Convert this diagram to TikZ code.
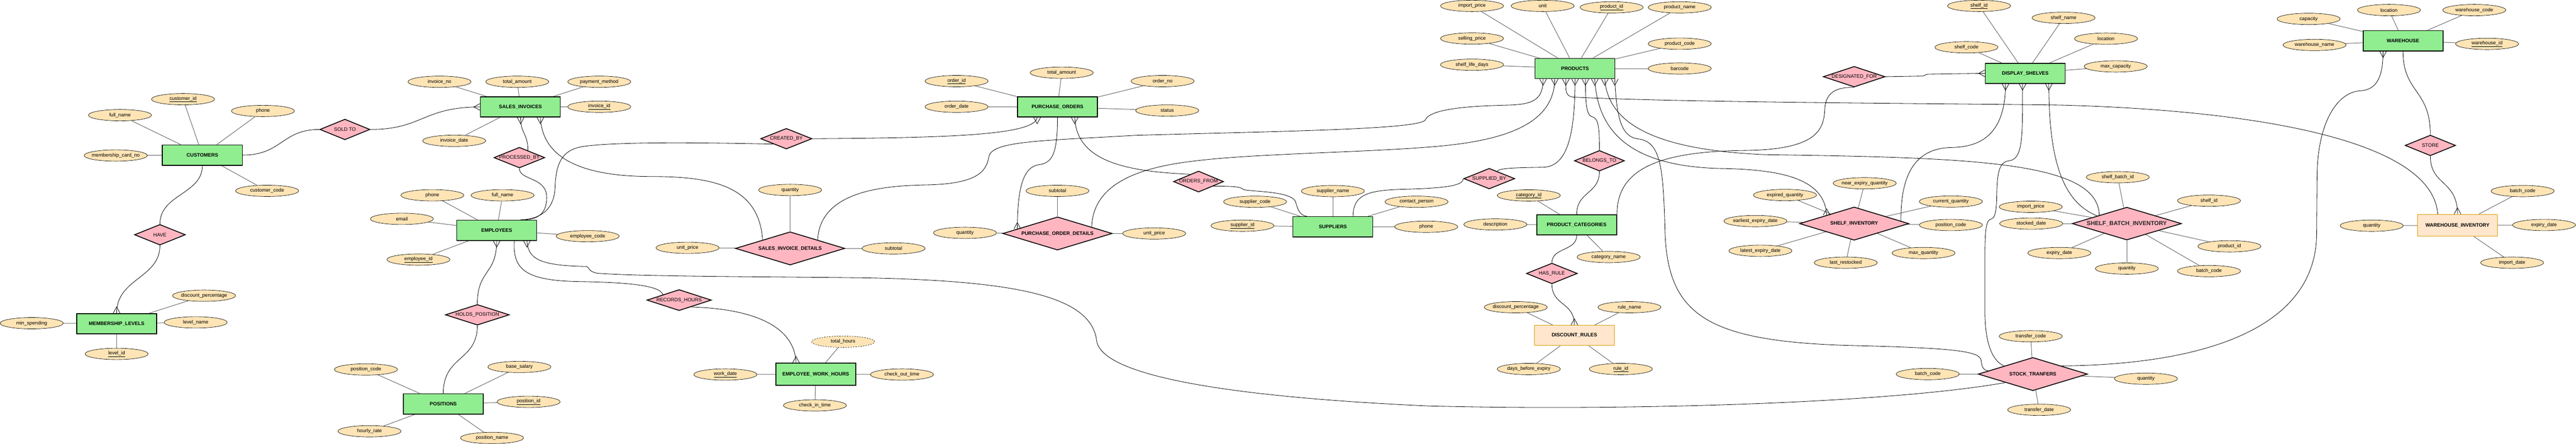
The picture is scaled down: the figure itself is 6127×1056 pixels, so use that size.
\documentclass[tikz,border=0pt]{standalone}
\usepackage{fontspec}
\setmainfont{Liberation Sans}
\usetikzlibrary{shapes.geometric,calc}
\pgfdeclarelayer{bg}
\pgfsetlayers{bg,main}
\definecolor{entfill}{HTML}{90EE90}
\definecolor{relfill}{HTML}{FFB6C1}
\definecolor{attfill}{HTML}{FFE4B5}
\definecolor{weakfill}{HTML}{FFE6CC}
\definecolor{weakdraw}{HTML}{D79B00}
\definecolor{alinecol}{HTML}{666666}
\tikzset{
  ent/.style={rectangle, draw=black, line width=2pt, fill=entfill, minimum width=190pt, minimum height=48pt, inner sep=0pt, font=\fontsize{11.8}{14}\selectfont\bfseries},
  weakent/.style={rectangle, draw=weakdraw, line width=1.5pt, fill=weakfill, minimum width=190pt, minimum height=48pt, inner sep=0pt, font=\fontsize{11.8}{14}\selectfont\bfseries},
  relshape/.style={diamond, draw=black, line width=2pt, fill=relfill, inner sep=0pt},
  reltxt/.style={font=\fontsize{11.8}{14}\selectfont, inner sep=0pt},
  assoctxt/.style={font=\fontsize{11.8}{14}\selectfont\bfseries, inner sep=0pt},
  sbitxt/.style={font=\fontsize{14}{16}\selectfont\bfseries, text=black!85, inner sep=0pt},
  attr/.style={ellipse, draw=black, line width=0.8pt, fill=attfill, minimum width=150pt, minimum height=27pt, inner sep=0pt},
  atxt/.style={font=\fontsize{11.8}{14}\selectfont, inner sep=0pt},
  attrline/.style={draw=alinecol, line width=1.2pt},
  conn/.style={draw=black, line width=1pt},
  crowS/.pic={\draw[conn] (-8,0) -- (0,15) -- (8,0);},
  crowN/.pic={\draw[conn] (-8,0) -- (0,-15) -- (8,0);},
  crowW/.pic={\draw[conn] (0,-8) -- (-15,0) -- (0,8);}
}
\newcommand\att[4][]{\node[attr,#1] (#2) at (#3) {}; \node[atxt] (#2t) at (#2) {#4};}
\newcommand\relnode[6][reltxt]{\node[relshape, minimum width=#4pt, minimum height=#5pt] (#2) at (#3) {}; \node[#1] (#2t) at (#2) {#6};}
\begin{document}
\begin{tikzpicture}[x=1pt,y=-1pt]
\begin{pgfonlayer}{bg}
\path[use as bounding box, fill=white] (0,0) rectangle (6127,1056);
\end{pgfonlayer}

% ---------- entities ----------
\node[ent] (CUST) at (481,369) {CUSTOMERS};
\node[ent] (ML) at (277,770) {MEMBERSHIP\_LEVELS};
\node[ent] (SI) at (1237.5,254.5) {SALES\_INVOICES};
\node[ent] (EMP) at (1181,548) {EMPLOYEES};
\node[ent] (POS) at (1054,961) {POSITIONS};
\node[ent, minimum height=53pt] (EWH) at (1940,890.5) {EMPLOYEE\_WORK\_HOURS};
\node[ent] (PO) at (2515,254.5) {PURCHASE\_ORDERS};
\node[ent] (SUP) at (3170,539.5) {SUPPLIERS};
\node[ent] (PROD) at (3746,163) {PRODUCTS};
\node[ent] (PC) at (3750,535) {PRODUCT\_CATEGORIES};
\node[weakent] (DR) at (3744.5,798) {DISCOUNT\_RULES};
\node[ent] (DS) at (4817,174.5) {DISPLAY\_SHELVES};
\node[ent] (WH) at (5715.5,97) {WAREHOUSE};
\node[weakent, minimum height=52pt] (WI) at (5845,536) {WAREHOUSE\_INVENTORY};

% ---------- relationships ----------
\relnode{SOLD}{820,308}{119}{49}{SOLD TO}
\relnode{HAVE}{380,558.5}{121}{49}{HAVE}
\relnode{PROC}{1235,375}{121}{49}{PROCESSED\_BY}
\relnode{CREATED}{1870,330}{122}{49}{CREATED\_BY}
\relnode{HOLDS}{1135,749}{152}{49}{HOLDS\_POSITION}
\relnode{RECH}{1615,714}{153}{50}{RECORDS\_HOURS}
\relnode[assoctxt]{SID}{1879,591}{260}{79}{SALES\_INVOICE\_DETAILS}
\relnode[assoctxt]{POD}{2515,555.5}{260}{79}{PURCHASE\_ORDER\_DETAILS}
\relnode{ORDF}{2850.5,432}{119}{50}{ORDERS\_FROM}
\relnode{SUPB}{3542,425}{121}{49}{SUPPLIED\_BY}
\relnode{BEL}{3804,382.5}{119}{49}{BELONGS\_TO}
\relnode{HASR}{3691,650.6}{121}{49}{HAS\_RULE}
\relnode{DESIG}{4410,182.5}{147}{49}{DESIGNATED\_FOR}
\relnode[assoctxt]{SHINV}{4410,532}{260}{79}{SHELF\_INVENTORY}
\relnode[sbitxt]{SBI}{5058.5,532}{260}{78}{SHELF\_BATCH\_INVENTORY}
\relnode[assoctxt]{ST}{4835,890}{260}{79}{STOCK\_TRANFERS}
\relnode{STORE}{5780.5,346}{120}{49}{STORE}

% ---------- attributes ----------
\att{c1}{435,236}{\underline{customer\_id}}
\att{c2}{285,274}{full\_name}
\att{c3}{625,264}{phone}
\att{c4}{275,370}{membership\_card\_no}
\att{c5}{635,454}{customer\_code}
\att{m1}{75,769}{min\_spending}
\att{m2}{485,703.5}{discount\_percentage}
\att{m3}{465,767}{level\_name}
\att{m4}{277,842}{\underline{level\_id}}
\att{s1}{1045,194.5}{invoice\_no}
\att{s2}{1230,194.5}{total\_amount}
\att{s3}{1425,194.5}{payment\_method}
\att{s4}{1425,254}{\underline{invoice\_id}}
\att{s5}{1080,335}{invoice\_date}
\att{e1}{1028,464.6}{phone}
\att{e2}{1195,464.6}{full\_name}
\att{e3}{955.6,520.7}{email}
\att{e4}{1397.5,562}{employee\_code}
\att{e5}{995,617.6}{\underline{employee\_id}}
\att{p1}{870,879}{position\_code}
\att{p2}{878.5,1026}{hourly\_rate}
\att{p3}{1235,873}{base\_salary}
\att{p4}{1257,956}{\underline{position\_id}}
\att{p5}{1170,1042}{position\_name}
\att{w1}{1725,891}{\underline{work\_date}}
\att[dashed]{w2}{2005,813}{total\_hours}
\att{w3}{2145,891}{check\_out\_time}
\att{w4}{1938,964.5}{check\_in\_time}
\att{sd1}{1879,452}{quantity}
\att{sd2}{1635,589.6}{unit\_price}
\att{sd3}{2125,591}{subtotal}
\att{o1}{2275,193}{\underline{order\_id}}
\att{o2}{2525,173}{total\_amount}
\att{o3}{2765,193}{order\_no}
\att{o4}{2275,254}{order\_date}
\att{o5}{2776,263}{status}
\att{pd1}{2515,454}{subtotal}
\att{pd2}{2295,554}{quantity}
\att{pd3}{2745,555.5}{unit\_price}
\att{u1}{3170,454.6}{supplier\_name}
\att{u2}{2985,480}{supplier\_code}
\att{u3}{3369,480}{contact\_person}
\att{u4}{2955,537}{\underline{supplier\_id}}
\att{u5}{3392,539.5}{phone}
\att{r1}{3501,14}{import\_price}
\att{r2}{3669,14}{unit}
\att{r3}{3501,91.6}{selling\_price}
\att{r4}{3501,154}{shelf\_life\_days}
\att{r5}{3833,17.5}{\underline{product\_id}}
\att{r6}{3995,17.5}{product\_name}
\att{r7}{3995,104}{product\_code}
\att{r8}{3995,163}{barcode}
\att{k1}{3636,465}{\underline{category\_id}}
\att{k2}{3556.5,534}{description}
\att{k3}{3826,611.5}{category\_name}
\att{d1}{3605,731}{discount\_percentage}
\att{d2}{3875.5,731}{rule\_name}
\att{d3}{3636,878}{days\_before\_expiry}
\att{d4}{3855,878}{\underline{rule\_id}}
\att{i1}{4435,436}{near\_expiry\_quantity}
\att{i2}{4245.5,464}{expired\_quantity}
\att{i3}{4175,526}{earliest\_expiry\_date}
\att{i4}{4187,596.7}{latest\_expiry\_date}
\att{i5}{4390,625}{last\_restocked}
\att{i6}{4640,479.5}{current\_quantity}
\att{i7}{4640,535.4}{position\_code}
\att{i8}{4575,602}{max\_quantity}
\att{h1}{4707,14}{\underline{shelf\_id}}
\att{h2}{4908,42.4}{shelf\_name}
\att{h3}{5009,92}{location}
\att{h4}{4677,112.5}{shelf\_code}
\att{h5}{5032,158}{max\_capacity}
\att{b1}{5037,421.6}{shelf\_batch\_id}
\att{b2}{5254,477.5}{shelf\_id}
\att{b3}{4830,492}{import\_price}
\att{b4}{4831,532}{stocked\_date}
\att{b5}{5302.5,586}{product\_id}
\att{b6}{4898,602}{expiry\_date}
\att{b7}{5058.5,639}{quantity}
\att{b8}{5254,645}{batch\_code}
\att{t1}{4830,800}{transfer\_code}
\att{t2}{4585,890}{batch\_code}
\att{t3}{5104,901}{quantity}
\att{t4}{4850,975}{transfer\_date}
\att{a1}{5682,24}{location}
\att{a2}{5885,24}{warehouse\_code}
\att{a3}{5491,45}{capacity}
\att{a4}{5505,107}{warehouse\_name}
\att{a5}{5915.5,104.4}{\underline{warehouse\_id}}
\att{v1}{6000,454.6}{batch\_code}
\att{v2}{5641,537}{quantity}
\att{v3}{6051,535.4}{expiry\_date}
\att{v4}{5975,625}{import\_date}

% ---------- connectors (behind shapes) ----------
\begin{pgfonlayer}{bg}
\foreach \a/\e in {c1/CUST,c2/CUST,c3/CUST,c4/CUST,c5/CUST,
  m1/ML,m2/ML,m3/ML,m4/ML,
  s1/SI,s2/SI,s3/SI,s4/SI,s5/SI,
  e1/EMP,e2/EMP,e3/EMP,e4/EMP,e5/EMP,
  p1/POS,p2/POS,p3/POS,p4/POS,p5/POS,
  w1/EWH,w2/EWH,w3/EWH,w4/EWH,
  sd1/SID,sd2/SID,sd3/SID,
  o1/PO,o2/PO,o3/PO,o4/PO,o5/PO,
  pd1/POD,pd2/POD,pd3/POD,
  u1/SUP,u2/SUP,u3/SUP,u4/SUP,u5/SUP,
  r1/PROD,r2/PROD,r3/PROD,r4/PROD,r5/PROD,r6/PROD,r7/PROD,r8/PROD,
  k1/PC,k2/PC,k3/PC,
  d1/DR,d2/DR,d3/DR,d4/DR,
  i1/SHINV,i2/SHINV,i3/SHINV,i4/SHINV,i5/SHINV,i6/SHINV,i7/SHINV,i8/SHINV,
  h1/DS,h2/DS,h3/DS,h4/DS,h5/DS,
  b1/SBI,b2/SBI,b3/SBI,b4/SBI,b5/SBI,b6/SBI,b7/SBI,b8/SBI,
  t1/ST,t2/ST,t3/ST,t4/ST,
  a1/WH,a2/WH,a3/WH,a4/WH,a5/WH,
  v1/WI,v2/WI,v3/WI,v4/WI}
  {\draw[attrline] (\a) -- (\e);}

% E1-E4
\draw[conn] (CUST.east) .. controls (670,369) and (670,308) .. (SOLD.west);
\draw[conn] (SOLD.east) .. controls (1005,308) and (1005,254.5) .. (SI.west);
\draw[conn] (CUST.south) .. controls (481,462) and (380,462) .. (HAVE.north);
\draw[conn] (HAVE.south) .. controls (380,662) and (277,662) .. (ML.north);
% E5-E8
\draw[conn] ([xshift=0.5pt]SI.south) .. controls (1238,320) and (1255,315) .. ($(PROC.north)!0.33!(PROC.east)$);
\draw[conn] (PROC.south) .. controls (1235,430) and (1300,420) .. (1300,470) .. controls (1300,515) and (1270,524) .. ([xshift=57pt]EMP.north);
\draw[conn] (CREATED.south west) .. controls (1700,340) and (1480,336) .. (1390,348) .. controls (1335,355) and (1322,390) .. (1320,445) .. controls (1318,495) and (1290,521) .. ([xshift=57pt]EMP.north);
\draw[conn] (CREATED.east) .. controls (2250,328) and (2462,322) .. ([xshift=-48.5pt]PO.south);
% E9 SI -> SID
\draw[conn] ([xshift=47.5pt]SI.south) .. controls (1290,385) and (1400,420) .. (1550,420) .. controls (1700,420) and (1805,445) .. (SID.north west);
% E10 SID -> PRODUCTS
\draw[conn] (SID.north east) .. controls (1950,455) and (2100,442) .. (2200,440) .. controls (2330,438) and (2346,405) .. (2352,372) .. controls (2360,335) and (2480,335) .. (2700,322) .. controls (3050,312) and (3380,308) .. (3390,285) .. controls (3402,258) and (3500,252) .. (3590,250) .. controls (3650,248) and (3670,235) .. ([xshift=-76pt]PROD.south);
% E11-E12
\draw[conn] (EMP.south) .. controls (1181,655) and (1135,640) .. (HOLDS.north);
\draw[conn] (HOLDS.south) .. controls (1135,860) and (1054,845) .. (POS.north);
% E13 EMP -> STOCK_TRANFERS
\draw[conn] ([xshift=72pt]EMP.south) .. controls (1256,615) and (1280,632) .. (1395,634) .. controls (1402,636) and (1398,646) .. (1420,650) .. controls (1520,658) and (1800,658) .. (2055,661) .. controls (2420,668) and (2595,705) .. (2608,810) .. controls (2620,905) and (3000,948) .. (3400,966) .. controls (3900,978) and (4500,958) .. (ST.south west);
% E14-E15
\draw[conn] ([xshift=42pt]EMP.south) .. controls (1218,645) and (1255,668) .. (1380,670) .. controls (1500,672) and (1570,680) .. ($(RECH.west)!0.5!(RECH.north)$);
\draw[conn] ($(RECH.east)!0.63!(RECH.south)$) .. controls (1800,735) and (1890,780) .. ([xshift=-47pt]EWH.north);
% E16-E19
\draw[conn] (PO.south) .. controls (2515,372) and (2500,388) .. (2470,392) .. controls (2432,398) and (2420,450) .. ($(POD.west)!0.27!(POD.north)$);
\draw[conn] ([xshift=41pt]PO.south) .. controls (2560,385) and (2680,408) .. ($(ORDF.west)!0.67!(ORDF.north)$);
\draw[conn] ($(ORDF.east)!0.42!(ORDF.south)$) .. controls (2940,443) and (2950,445) .. (2956,450) .. controls (2962,457) and (3075,452) .. (3082,482) .. controls (3088,506) and (3096,513) .. ([xshift=-62pt]SUP.north);
\draw[conn] ($(POD.east)!0.38!(POD.north)$) .. controls (2600,440) and (2700,398) .. (2850,382) .. controls (3000,364) and (3300,362) .. (3450,345) .. controls (3600,328) and (3697,285) .. ([xshift=-48.3pt]PROD.south);
% E20-E25
\draw[conn] ([xshift=48pt]SUP.north) .. controls (3218,458) and (3262,452) .. (3350,450) .. controls (3450,447) and (3479,440) .. (SUPB.west);
\draw[conn] ($(SUPB.north)!0.31!(SUPB.east)$) .. controls (3566,400) and (3600,399) .. (3670,398) .. controls (3725,396) and (3746,330) .. (PROD.south);
\draw[conn] ([xshift=24.7pt]PROD.south) .. controls (3771,262) and (3775,276) .. (3790,279) .. controls (3801,285) and (3804,300) .. (BEL.north);
\draw[conn] (BEL.south) .. controls (3804,462) and (3750,455) .. (PC.north);
\draw[conn] (PC.south) .. controls (3750,598) and (3691,588) .. (HASR.north);
\draw[conn] (HASR.south) .. controls (3691,728) and (3744.5,718) .. (DR.north);
% E26 PRODUCTS -> WAREHOUSE_INVENTORY
\draw[conn] ([xshift=-22pt]PROD.south) .. controls (3724,215) and (3722,229) .. (3742,231) .. controls (4000,244) and (4600,246) .. (4900,250) .. controls (5350,262) and (5785,330) .. ([xshift=-47pt]WI.north);
% E27 PRODUCTS -> SBI
\draw[conn] ([xshift=70.7pt]PROD.south) .. controls (3825,305) and (3960,358) .. (4200,368) .. controls (4700,375) and (4990,385) .. ($(SBI.west)!0.5!(SBI.north)$);
% E28 PRODUCTS -> SHELF_INVENTORY
\draw[conn] ([xshift=47pt]PROD.south) .. controls (3800,330) and (3900,398) .. (4100,401) .. controls (4250,404) and (4340,430) .. ($(SHINV.west)!0.5!(SHINV.north)$);
% E29-E30
\draw[conn] (PC.north east) .. controls (3845,400) and (3950,360) .. (4150,358) .. controls (4320,356) and (4338,310) .. (4340,260) .. controls (4342,218) and (4370,207) .. (DESIG.south);
\draw[conn] (DESIG.east) -- (4574,181) .. controls (4579,180.5) and (4578,176.8) .. (4586,176.5) -- (DS.west);
% E31-E33
\draw[conn] ([xshift=-47pt]DS.south) .. controls (4770,330) and (4700,350) .. (4640,351) .. controls (4552,353) and (4520,420) .. ($(SHINV.east)!0.15!(SHINV.north)$);
\draw[conn] ([xshift=-6.5pt]DS.south) .. controls (4810.5,330) and (4812,380) .. (4776,383) .. controls (4752,387) and (4750,420) .. (4749,470) .. controls (4748,515) and (4742,520) .. (4733,522) .. controls (4722,528) and (4721,560) .. (4721,620) -- (4721,740) .. controls (4721,830) and (4745,862) .. ($(ST.west)!0.48!(ST.north)$);
\draw[conn] ([xshift=56pt]DS.south) .. controls (4873,380) and (4905,480) .. ($(SBI.west)!0.46!(SBI.north)$);
% E34-E36
\draw[conn] ($(ST.north)!0.52!(ST.east)$) .. controls (5200,868) and (5505,800) .. (5510,560) -- (5511,420) .. controls (5512,290) and (5560,218) .. (5615,216) .. controls (5655,213) and (5668,180) .. ([xshift=-47.5pt]WH.south);
\draw[conn] (WH.south) .. controls (5715.5,222) and (5780.5,212) .. (STORE.north);
\draw[conn] (STORE.south) .. controls (5780.5,442) and (5845,428) .. (WI.north);
% E37 PRODUCTS -> STOCK_TRANFERS
\draw[conn] ([xshift=94.7pt]PROD.south) .. controls (3845,292) and (3860,328) .. (3900,331) .. controls (3950,340) and (3956,400) .. (3960,550) .. controls (3966,750) and (4060,812) .. (4400,822) .. controls (4655,828) and (4710,836) .. (4712,858) .. controls (4714,878) and (4720,881) .. ($(ST.west)!0.19!(ST.north)$);
\end{pgfonlayer}

% ---------- crow's feet ----------
\pic at (SI.west) {crowW};
\pic at (ML.north) {crowN};
\pic at ([xshift=0.5pt]SI.south) {crowS};
\pic at ([xshift=47.5pt]SI.south) {crowS};
\pic at ([xshift=-48.5pt]PO.south) {crowS};
\pic at ([xshift=41pt]PO.south) {crowS};
\pic at (EMP.south) {crowS};
\pic at ([xshift=72pt]EMP.south) {crowS};
\pic at ([xshift=-47pt]EWH.north) {crowN};
\pic at ($(POD.west)!0.27!(POD.north)$) {crowN};
\foreach \dx in {-76,-48.3,-22,0,24.7,47,70.7,94.7}
  {\pic at ([xshift=\dx pt]PROD.south) {crowS};}
\pic at (DR.north) {crowN};
\pic at ($(SHINV.west)!0.5!(SHINV.north)$) {crowN};
\pic at (DS.west) {crowW};
\foreach \dx in {-47,-6.5,56}
  {\pic at ([xshift=\dx pt]DS.south) {crowS};}
\pic at ([xshift=-47.5pt]WH.south) {crowS};
\pic at (WI.north) {crowN};
\end{tikzpicture}
\end{document}
